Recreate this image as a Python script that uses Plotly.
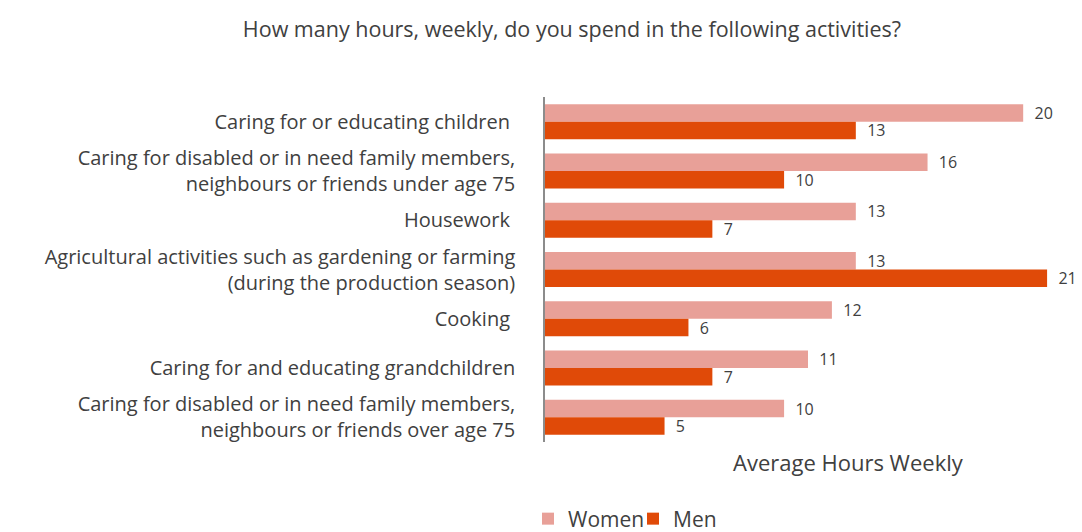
import plotly.graph_objects as go

categories = [
    "Caring for or educating children ",
    "Caring for disabled or in need family members,<br>neighbours or friends under age 75",
    "Housework ",
    "Agricultural activities such as gardening or farming<br>(during the production season)",
    "Cooking ",
    "Caring for and educating grandchildren",
    "Caring for disabled or in need family members,<br>neighbours or friends over age 75",
]
women = [20, 16, 13, 13, 12, 11, 10]
men = [13, 10, 7, 21, 6, 7, 5]

series_names = ["Women", "Men"]
colors = ["#E8A098", "#E04A08"]
TXT = "#404040"
FONT = "Open Sans"

# page body has an 8px offset; figure drawn in shifted coordinates
OFF = 8
W, H = 1082 - OFF, 532 - OFF
L, R, T, B = 545 - OFF, 1071 - OFF, 97 - OFF, 442 - OFF

fig = go.Figure()
for name, vals, col in zip(series_names, [women, men], colors):
    fig.add_trace(go.Bar(
        y=categories, x=vals, name=name, orientation="h",
        marker=dict(color=col, line=dict(width=0)),
        text=vals, texttemplate="\u00a0\u00a0%{x}", textposition="outside",
        cliponaxis=False, constraintext="none",
        textfont=dict(family=FONT, size=16, color=TXT),
    ))

fig.update_layout(
    width=W, height=H,
    barmode="group", bargap=0.29, bargroupgap=0,
    plot_bgcolor="white", paper_bgcolor="white",
    margin=dict(l=L, r=W - R, t=T, b=H - B, autoexpand=False),
    font=dict(family=FONT, color=TXT),
    title=dict(text="How many hours, weekly, do you spend in the following activities?",
               x=(572 - OFF) / W, xanchor="center", y=1 - (29 - OFF) / H, yanchor="middle",
               font=dict(family=FONT, size=21.5, color=TXT)),
    showlegend=True,
    legend=dict(orientation="h", xref="container", yref="container",
                x=(528 - OFF) / W, xanchor="left", y=1 - (519 - OFF) / H, yanchor="middle",
                font=dict(family=FONT, size=21, color=TXT),
                itemwidth=30, entrywidth=60, entrywidthmode="pixels",
                traceorder="normal"),
    annotations=[dict(text="Average Hours Weekly", xref="paper", yref="paper",
                      x=(848 - 545) / (1071 - 545), y=-(462 - 442) / (442 - 97),
                      xanchor="center", yanchor="middle",
                      showarrow=False, font=dict(family=FONT, size=22, color=TXT))],
)
fig.update_xaxes(range=[0, 22], showticklabels=False, showgrid=False, zeroline=False,
                 showline=False, ticks="")
fig.update_yaxes(autorange="reversed", showgrid=False, zeroline=False,
                 showline=True, linecolor="#8C8C8C", linewidth=1.5, ticks="",
                 ticklabelstandoff=24,
                 tickfont=dict(family=FONT, size=20, color=TXT))

fig.write_html("out.html")
